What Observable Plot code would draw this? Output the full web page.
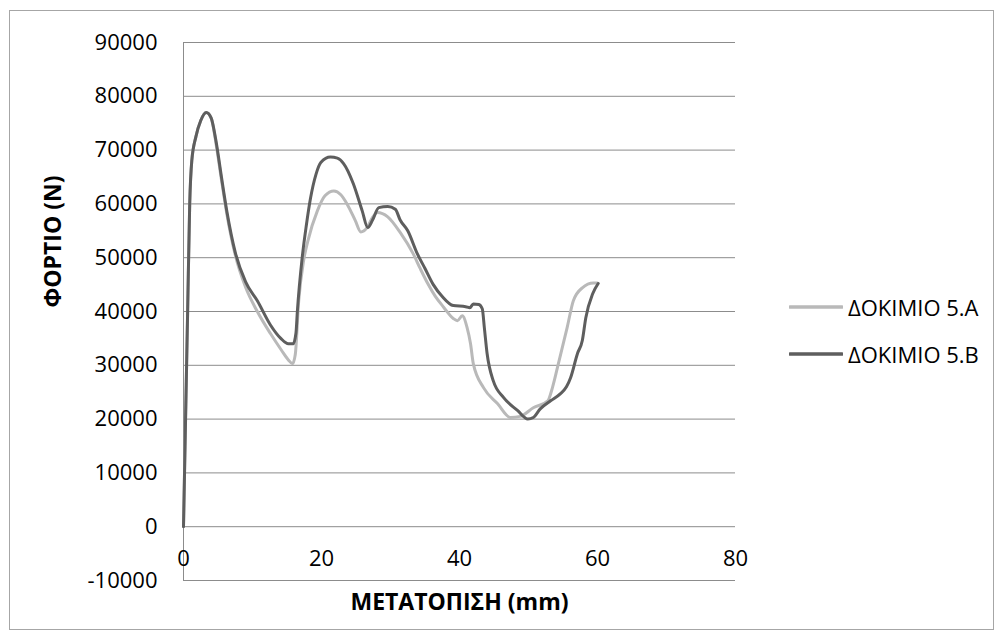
<!DOCTYPE html>
<html>
<head>
<meta charset="utf-8">
<script src="https://cdn.jsdelivr.net/npm/d3@7"></script>
<script src="https://cdn.jsdelivr.net/npm/@observablehq/plot@0.6"></script>
<style>
  html, body { margin: 0; padding: 0; background: #fff; }
  #chart { position: relative; width: 1003px; height: 640px; font-family: "Open Sans", "Noto Sans", sans-serif; }
  #chart > svg { position: absolute; left: 0; top: 0; }
  #frame { position: absolute; left: 9px; top: 10px; width: 983px; height: 618px; border: 1px solid #a6a6a6; pointer-events: none; }
  #chart .legend { position: absolute; left: 789px; display: flex; align-items: center; font-size: 22px; color: #000; white-space: nowrap; }
  #chart .legend svg { position: static; display: block; margin-right: 5px; }
</style>
</head>
<body>
<div id="chart"><div id="frame"></div></div>
<script>
// Displacement (mm) and load (N) for specimen 5.A
const dispA = [0, 0.3, 0.6, 0.9, 1.2, 1.8, 2.5, 3.3, 4.0, 4.8, 5.5, 6.3, 7.5, 9.0, 10.7, 12.6, 14.2, 15.2, 15.8,
  16.2, 16.7, 17.4, 18.0, 19.4, 20.5, 21.8, 22.8, 23.7, 24.9, 25.7, 26.6, 27.4, 28.1, 29.6, 31.4, 33.3, 34.3,
  35.4, 36.5, 37.7, 39.1, 39.7, 40.4, 41.1, 41.6, 42.0, 43.5, 45.5, 47.4, 48.8, 50.7, 52.8, 53.5, 54.2, 55.6,
  56.5, 57.8, 59.4, 60.0];
const loadA = [0, 20000, 40000, 60000, 68000, 72500, 75500, 77000, 76000, 70500, 64500, 58000, 50500, 44500, 40000,
  35900, 32800, 31000, 30300, 32000, 42000, 49400, 53000, 58700, 61500, 62400, 61700, 60000, 56900, 54800, 55600,
  57500, 58400, 57600, 54700, 50700, 48000, 45200, 42800, 40800, 38700, 38300, 39200, 37000, 34000, 30300, 25800,
  22900, 20300, 20500, 22100, 23400, 26000, 29600, 37000, 42000, 44400, 45300, 45300];

// Displacement (mm) and load (N) for specimen 5.B
const dispB = [0, 0.3, 0.6, 0.9, 1.2, 1.8, 2.5, 3.3, 4.0, 4.8, 5.5, 6.3, 7.5, 9.0, 10.7, 12.6, 14.1, 15.2, 15.9,
  16.3, 16.5, 17.2, 17.8, 18.4, 19.2, 19.9, 21.3, 22.3, 23.2, 24.6, 25.9, 26.7, 27.4, 28.3, 29.6, 30.7, 31.4,
  32.5, 33.9, 35.0, 36.2, 37.5, 39.1, 40.9, 41.5, 42.0, 42.8, 43.3, 43.6, 44.0, 44.9, 46.4, 48.4, 49.9, 50.7,
  51.7, 53.2, 54.6, 55.5, 56.1, 57.1, 57.8, 58.3, 59.3, 60.1];
const loadB = [0, 20000, 40000, 60000, 68000, 72500, 75500, 77000, 76000, 71000, 65000, 58500, 51000, 45500, 42000,
  37500, 35000, 34000, 34000, 36000, 40000, 50000, 56000, 61000, 65500, 67700, 68700, 68500, 67500, 63800, 58700,
  55600, 57000, 59300, 59500, 59000, 57000, 55000, 50700, 48000, 45000, 42800, 41100, 40900, 40700, 41400, 41300,
  40500, 37000, 32200, 27100, 24000, 21600, 20000, 20300, 21900, 23400, 24700, 26000, 27700, 32200, 34600, 38800,
  43300, 45200];

const seriesNames = ["ΔΟΚΙΜΙΟ 5.A", "ΔΟΚΙΜΙΟ 5.B"];
const seriesColors = ["#b9b9b9", "#5e5e5e"];
const xTicks = [0, 20, 40, 60, 80];
const yTicks = [-10000, 0, 10000, 20000, 30000, 40000, 50000, 60000, 70000, 80000, 90000];
const xTitle = "ΜΕΤΑΤΟΠΙΣΗ (mm)";
const yTitle = "ΦΟΡΤΙΟ (Ν)";

const rowsA = dispA.map((x, i) => ({x, y: loadA[i]}));
const rowsB = dispB.map((x, i) => ({x, y: loadB[i]}));

const plot = Plot.plot({
  width: 1003,
  height: 640,
  marginLeft: 183,
  marginRight: 268,
  marginTop: 42,
  marginBottom: 60,
  style: {fontFamily: "'Open Sans', 'Noto Sans', sans-serif", fontSize: "22px", color: "#000", background: "transparent"},
  x: {domain: [0, 80]},
  y: {domain: [-10000, 90000]},
  marks: [
    Plot.ruleY(yTicks, {stroke: "#8c8c8c", strokeWidth: 1, strokeOpacity: 1}),
    Plot.ruleX([0], {stroke: "#8c8c8c", strokeWidth: 1, strokeOpacity: 1}),
    Plot.axisY({ticks: yTicks, tickSize: 0, tickPadding: 26, tickFormat: d => String(d), label: null, fontSize: 22, fill: "#000"}),
    Plot.axisX({ticks: [], label: null, tickSize: 0}),
    Plot.text(xTicks, {x: d => d, y: 0, dy: 32, text: d => String(d), fontSize: 22, fill: "#000"}),
    Plot.line(rowsA, {x: "x", y: "y", stroke: seriesColors[0], strokeWidth: 3, curve: "monotone-x", strokeLinejoin: "round", strokeLinecap: "round"}),
    Plot.line(rowsB, {x: "x", y: "y", stroke: seriesColors[1], strokeWidth: 3, curve: "monotone-x", strokeLinejoin: "round", strokeLinecap: "round"}),
    Plot.text([xTitle], {frameAnchor: "bottom", dy: 29, text: d => d, fontSize: 23, fontWeight: "bold", fill: "#000"}),
    Plot.text([yTitle], {frameAnchor: "left", dx: -130, dy: -4, rotate: -90, text: d => d, fontSize: 23, fontWeight: "bold", fill: "#000"})
  ]
});

const chart = document.getElementById("chart");
chart.insertBefore(plot, chart.firstChild);

// Legend at the right of the plot area
const legendTops = [307, 354];
seriesNames.forEach((name, i) => {
  const item = document.createElement("div");
  item.className = "legend";
  item.style.top = (legendTops[i] - 16) + "px";
  item.style.height = "32px";
  item.innerHTML = `<svg width="54" height="6"><line x1="1" y1="3" x2="53" y2="3" stroke="${seriesColors[i]}" stroke-width="3.5" stroke-linecap="round"/></svg><span>${name}</span>`;
  chart.appendChild(item);
});
</script>
</body>
</html>
